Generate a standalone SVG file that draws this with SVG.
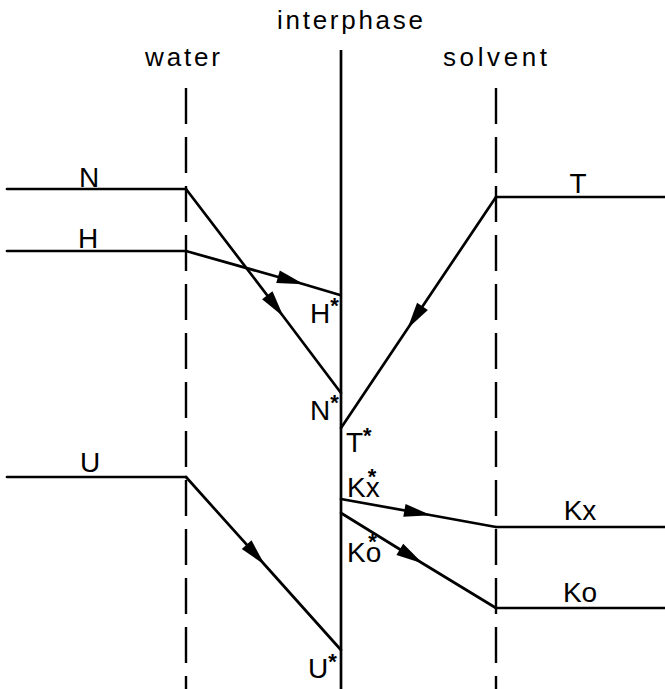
<svg xmlns="http://www.w3.org/2000/svg" width="665" height="689" viewBox="0 0 665 689">
<style>
  .ln { fill: none; stroke: #000; stroke-width: 2.7; stroke-linecap: round; stroke-linejoin: round; }
  .dash { fill: none; stroke: #000; stroke-width: 2.4; stroke-dasharray: 36 13; }
  .solid { fill: none; stroke: #000; stroke-width: 2.7; }
  .hd { font-family: "Liberation Sans", Arial, sans-serif; font-size: 26px; fill: #000; }
  .lb { font-family: "Liberation Sans", Arial, sans-serif; font-size: 28px; fill: #000; }
  .st { font-family: "Liberation Sans", Arial, sans-serif; font-size: 22px; font-weight: bold; fill: #000; }
  .arr { marker-mid: url(#ah); }
</style>
<defs>
  <marker id="ah" markerUnits="userSpaceOnUse" markerWidth="32" markerHeight="16" viewBox="-28 -8 32 16" refX="0" refY="0" orient="auto" overflow="visible">
    <path d="M1,0 L-26,-6.5 L-26,6.5 Z" fill="#000"/>
  </marker>
</defs>

<g id="headers">
  <text class="hd" x="277" y="29" textLength="146" lengthAdjust="spacing">interphase</text>
  <text class="hd" x="145" y="66" textLength="75" lengthAdjust="spacing">water</text>
  <text class="hd" x="443" y="66" textLength="104" lengthAdjust="spacing">solvent</text>
</g>

<g id="boundaries">
  <line id="water-boundary" class="dash" x1="186" y1="88" x2="186" y2="689"/>
  <line id="interphase" class="solid" x1="341" y1="50" x2="341" y2="689"/>
  <line id="solvent-boundary" class="dash" x1="496" y1="88" x2="496" y2="689"/>
</g>

<g id="connectors">
  <path class="ln" d="M7,189 L186,189"/>
  <path class="ln arr" d="M186,189 L283,316 L341,393"/>
  <path class="ln" d="M7,251 L186,251"/>
  <path class="ln arr" d="M186,251 L303,284 L340,295"/>
  <path class="ln" d="M7,477 L186,477"/>
  <path class="ln arr" d="M186,477 L264,564 L341,650"/>
  <path class="ln" d="M496,197 L665,197"/>
  <path class="ln arr" d="M496,197 L408,328 L341,428"/>
  <path class="ln arr" d="M341,499 L430,515 L496,527"/>
  <path class="ln" d="M496,527 L665,527"/>
  <path class="ln arr" d="M341,513 L422,563 L496,608"/>
  <path class="ln" d="M496,608 L665,608"/>
</g>

<g id="N"><text class="lb" x="89" y="187" text-anchor="middle">N</text></g>
<g id="H"><text class="lb" x="88" y="248" text-anchor="middle">H</text></g>
<g id="U"><text class="lb" x="90" y="472" text-anchor="middle">U</text></g>
<g id="T"><text class="lb" x="578" y="193" text-anchor="middle">T</text></g>
<g id="Kx"><text class="lb" x="580" y="520" text-anchor="middle">Kx</text></g>
<g id="Ko"><text class="lb" x="580" y="602" text-anchor="middle">Ko</text></g>

<g id="H-star"><text class="lb" x="310" y="323">H<tspan class="st" dx="0" dy="-10">*</tspan></text></g>
<g id="N-star"><text class="lb" x="310" y="420">N<tspan class="st" dx="0" dy="-10">*</tspan></text></g>
<g id="T-star"><text class="lb" x="346" y="452">T<tspan class="st" dx="0" dy="-9">*</tspan></text></g>
<g id="Kx-star"><text class="lb" x="347" y="497">Kx<tspan class="st" dx="-12" dy="-13">*</tspan></text></g>
<g id="Ko-star"><text class="lb" x="347" y="562">Ko<tspan class="st" dx="-13" dy="-13">*</tspan></text></g>
<g id="U-star"><text class="lb" x="308" y="678">U<tspan class="st" dx="0" dy="-9">*</tspan></text></g>
</svg>
